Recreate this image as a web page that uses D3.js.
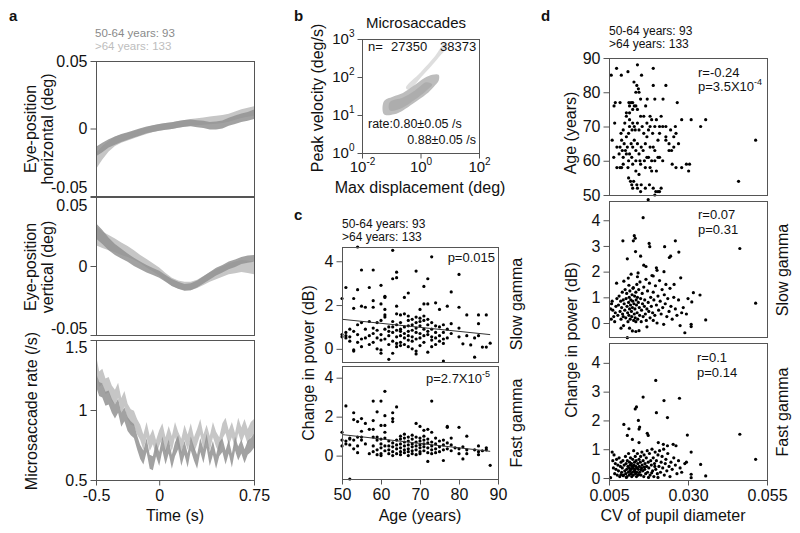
<!DOCTYPE html>
<html>
<head>
<meta charset="utf-8">
<script src="https://cdn.jsdelivr.net/npm/d3@7"></script>
<style>
  body { margin: 0; background: #fff; }
  svg { font-family: "Liberation Sans", Arial, sans-serif; display: block; background: #fff; }
  .frame { fill: none; stroke: #555; stroke-width: 1; }
  .axis path { display: none; }
  .axis line { stroke: #555; }
  .axis text { font-size: 16px; fill: #111; font-family: "Liberation Sans", Arial, sans-serif; }
  .title { font-size: 16px; fill: #111; }
  .note { font-size: 13px; fill: #111; }
  .count { font-size: 12px; }
  .tag { font-size: 15px; font-weight: bold; }
</style>
</head>
<body>
<svg id="fig" width="800" height="533"></svg>
<script>
// ---------- panel a : eye position / microsaccade rate (mean +- sem)
var tPos = [-0.5,-0.45,-0.4,-0.35,-0.3,-0.25,-0.2,-0.15,-0.1,-0.05,0,0.05,0.1,0.15,0.2,0.25,0.3,0.35,0.4,0.45,0.5,0.55,0.6,0.65,0.7,0.75]
var horizYoung = [-0.017,-0.014,-0.011,-0.009,-0.007,-0.0055,-0.004,-0.0025,-0.001,0,0.0008,0.0015,0.0022,0.003,0.0038,0.0042,0.0035,0.003,0.002,0.0022,0.003,0.005,0.0065,0.008,0.009,0.0105]
var horizYoungSem = [0.0035,0.0035,0.003,0.003,0.003,0.0028,0.0027,0.0026,0.0025,0.0025,0.0025,0.0025,0.0025,0.0025,0.0025,0.0025,0.0026,0.0027,0.0028,0.0029,0.003,0.003,0.0031,0.0032,0.0033,0.0035]
var horizOld = [-0.024,-0.018,-0.013,-0.0095,-0.0075,-0.006,-0.0045,-0.003,-0.0015,0,0.0008,0.0015,0.0022,0.003,0.0038,0.0045,0.005,0.0055,0.006,0.0065,0.007,0.008,0.0095,0.011,0.012,0.013]
var horizOldSem = [0.006,0.005,0.004,0.0035,0.003,0.0028,0.0027,0.0026,0.0025,0.0025,0.0025,0.0025,0.0025,0.0025,0.0025,0.0025,0.0026,0.0027,0.0028,0.0029,0.003,0.003,0.0031,0.0032,0.0033,0.0035]
var vertYoung = [0.0255,0.021,0.016,0.012,0.009,0.006,0.003,0.0005,-0.002,-0.004,-0.006,-0.009,-0.012,-0.014,-0.0155,-0.015,-0.013,-0.01,-0.007,-0.004,-0.002,0.0005,0.002,0.004,0.005,0.0055]
var vertYoungSem = [0.0055,0.005,0.0045,0.004,0.0035,0.003,0.003,0.0028,0.0027,0.0026,0.0025,0.0025,0.0025,0.0025,0.0025,0.0025,0.0025,0.0026,0.0027,0.0028,0.0028,0.0028,0.0027,0.0026,0.0026,0.0025]
var vertOld = [0.022,0.019,0.017,0.015,0.0125,0.0105,0.008,0.005,0.002,-0.001,-0.004,-0.008,-0.0115,-0.0135,-0.0145,-0.0145,-0.013,-0.0105,-0.008,-0.006,-0.004,-0.002,-0.001,0,-0.0005,-0.0015]
var vertOldSem = [0.007,0.006,0.0055,0.005,0.0045,0.004,0.0035,0.003,0.003,0.003,0.003,0.003,0.003,0.003,0.003,0.003,0.003,0.0032,0.0034,0.0036,0.0038,0.004,0.0042,0.0044,0.0045,0.0045]

var tRate = [-0.5,-0.475,-0.45,-0.425,-0.4,-0.375,-0.35,-0.325,-0.3,-0.275,-0.25,-0.225,-0.2,-0.175,-0.15,-0.125,-0.1,-0.075,-0.05,-0.025,0,0.025,0.05,0.075,0.1,0.125,0.15,0.175,0.2,0.225,0.25,0.275,0.3,0.325,0.35,0.375,0.4,0.425,0.45,0.475,0.5,0.525,0.55,0.575,0.6,0.625,0.65,0.675,0.7,0.725,0.75]
var rateYoung = [1.22,1.15,1.14,1.08,1.09,1.03,0.99,1.03,0.93,0.97,0.90,0.87,0.85,0.77,0.70,0.66,0.75,0.63,0.62,0.72,0.65,0.76,0.66,0.74,0.63,0.72,0.77,0.65,0.73,0.64,0.76,0.69,0.63,0.75,0.67,0.78,0.65,0.73,0.63,0.72,0.75,0.66,0.74,0.64,0.76,0.69,0.74,0.67,0.73,0.75,0.78]
var rateOld = [1.34,1.22,1.24,1.17,1.18,1.12,1.09,1.14,1.03,1.08,0.99,0.95,0.94,0.88,0.84,0.77,0.86,0.76,0.81,0.73,0.80,0.85,0.75,0.83,0.76,0.86,0.79,0.74,0.84,0.77,0.85,0.75,0.81,0.88,0.77,0.84,0.76,0.86,0.79,0.75,0.85,0.89,0.80,0.86,0.78,0.89,0.82,0.88,0.81,0.86,0.88]
var rateYoungSem = 0.05
var rateOldSem = 0.055

// ---------- panel b : main sequence cloud outlines (log10 units)
var cloudMain = [[-1.25,1.02],[-0.9,1.02],[-0.6,1.12],[-0.25,1.3],[0.2,1.55],[0.45,1.74],[0.62,1.9],[0.62,2.06],[0.4,2.06],[0.15,1.98],[-0.25,1.76],[-0.6,1.58],[-0.95,1.48],[-1.25,1.36]]
var cloudCore = [[-1.05,1.12],[-0.6,1.2],[-0.2,1.4],[0.2,1.64],[0.4,1.8],[0.2,1.86],[-0.2,1.64],[-0.6,1.46],[-1.05,1.34]]
var cloudStreak = [[-0.5,1.72],[0.0,2.12],[0.5,2.55],[0.85,2.92],[0.92,2.82],[0.55,2.45],[0.05,2.02],[-0.4,1.66]]

// ---------- panel c : gamma change vs age ([age, values...])
var slowByAge = [[50,[2.3,0.65,0.55]],[51,[2.8,0.5,0.6,0.75]],[52,[0.9,0.55,0.35]],[53,[2.3,1.85,0.8,-0.05,-0.1]],
  [54,[4.65,2.7,1.1,0.65,0.3]],[55,[3.6,1.95,1.2,0.1,0.45]],[56,[1.9,0.9,0.5]],[57,[2.8,1.25,0.2,0.6]],
  [58,[3.6,2.2,1.9,0.7,0.95,0.3]],[59,[1.2,0.5,0.0,0.85]],[60,[2.9,2.05,1.3,0.65,-0.05,-0.2,0.4]],
  [61,[2.4,2.35,1.8,1.55,1.45,0.9,0.45]],[62,[1.0,0.6,0.2,-0.48,0.8]],[63,[4.5,3.2,1.25,1.0,0.75,0.35,-0.2]],
  [64,[3.5,3.25,1.95,1.6,1.1,0.85,0.55,0.25,0.1]],[65,[1.55,1.2,0.9,0.8,0.6,0.3,0.15]],[66,[2.35,1.6,1.0,0.7,0.5,0.2]],
  [67,[2.55,1.5,1.3,1.05,0.8,0.6,0.4,0.1]],[68,[1.35,1.1,0.85,0.55,0.35,0.0]],[69,[3.55,1.45,1.2,0.95,0.75,0.45,-0.1,-0.23]],
  [70,[1.8,1.4,1.25,1.05,0.7,0.5,0.15]],[71,[2.85,2.05,1.5,1.3,0.9,0.6,0.3]],[72,[3.2,2.05,1.35,1.1,0.8,0.65,-0.15]],
  [73,[4.2,1.2,0.9,0.55,0.4,0.1]],[74,[2.1,1.05,0.75,0.5,0.2]],[75,[1.8,1.0,0.6,0.35]],[76,[1.1,0.75,0.45,0.25,-0.56]],
  [77,[1.95,0.9,0.5]],[78,[2.6,1.15,0.7]],[80,[3.4,1.9,0.95,0.55]],[81,[0.23]],[82,[1.55,0.6]],[83,[0.18]],
  [84,[0.5,-0.38]],[85,[1.55,1.15,0.6]],[86,[0.08]],[87,[1.55,0.08]],[88,[0.26]]]
var fastByAge = [[50,[1.2,0.5,0.8]],[51,[2.55,0.75,0.6]],[52,[0.85,0.9,0.55,-1.2]],[53,[2.2,1.85,0.8,0.35]],
  [54,[1.75,0.95,0.5,0.15]],[55,[1.9,1.25,0.95,0.8]],[56,[1.65,0.6]],[57,[1.35,0.1]],[58,[2.8,1.8,1.35,0.95,0.5,0.2]],
  [59,[2.25,0.95,0.8,0.3,0.05]],[60,[2.8,1.55,0.85,0.6,0.4,0.1,0.0]],[61,[3.3,2.05,1.55,1.2,0.9,0.5,0.25]],
  [62,[0.75,0.5,0.3,0.1]],[63,[2.2,1.9,1.75,0.65,0.45,0.2,0.0]],[64,[2.5,0.8,0.55,0.35,0.1]],
  [65,[1.0,0.85,0.6,0.4,0.2,0.05]],[66,[1.1,0.9,0.7,0.5,0.3,0.15]],[67,[0.95,0.75,0.55,0.35,0.2,0.0]],
  [68,[1.05,0.85,0.6,0.45,0.25,0.1]],[69,[1.65,0.95,0.7,0.5,0.3,0.05]],[70,[1.5,0.9,0.75,0.55,0.4,0.2,0.1]],
  [71,[1.3,1.0,0.8,0.6,0.45,0.25]],[72,[1.35,0.85,0.65,0.4,0.15,-0.3]],[73,[2.8,1.2,0.7,0.5,0.3,0.1]],
  [74,[0.9,0.6,0.35,0.15]],[75,[0.75,0.45,0.2]],[76,[0.8,0.55,0.3,-0.25]],[77,[1.5,1.45,0.65,0.35]],
  [78,[0.9,0.55,0.25]],[79,[0.4]],[80,[1.45,0.35,0.1]],[81,[0.45,-0.17]],[82,[1.0,0.3,0.1]],[84,[0.3]],
  [85,[0.5,0.2,0.05]],[86,[0.25]],[87,[0.4,0.3]],[88,[-0.5]]]
var slowFit = [[50,1.35],[88,0.65]]
var fastFit = [[50,1.08],[88,0.22]]

// ---------- panel d : vs CV of pupil diameter ([cv, value])
var ageVsCv = [[0.0057,85],[0.0074,87],[0.0089,85],[0.011,86],[0.014,88],[0.0153,85],[0.019,87],[0.0129,83],[0.0138,82],
  [0.0143,81],[0.019,82],[0.023,82],[0.0145,80],[0.0135,80],[0.015,78],[0.0171,78],[0.0195,78],[0.0221,78],[0.0266,77],
  [0.007,77],[0.0085,77],[0.0066,76],[0.0113,77],[0.012,77],[0.0125,77],[0.013,76],[0.0135,76],[0.0115,76],[0.014,75],
  [0.0166,76],[0.0125,75],[0.0105,74],[0.0115,74],[0.0105,73],[0.015,73],[0.016,73],[0.018,73],[0.02,72],[0.0215,73],
  [0.0068,71],[0.01,71],[0.0115,72],[0.0125,71],[0.013,70],[0.014,71],[0.0155,70],[0.017,71],[0.018,70],[0.0185,72],
  [0.0195,70],[0.021,70],[0.022,70],[0.023,70],[0.0245,69],[0.026,70],[0.028,72],[0.031,72],[0.034,70],[0.0356,72],
  [0.0115,70],[0.0123,69],[0.0133,69],[0.0145,69],[0.016,68],[0.0175,69],[0.0095,69],[0.0088,68],[0.0105,67],[0.0112,68],
  [0.017,67],[0.0188,68],[0.021,68],[0.023,67],[0.0255,67],[0.0262,68],[0.006,66],[0.009,66],[0.0098,65],[0.0108,64],
  [0.012,65],[0.013,66],[0.014,65],[0.0152,64],[0.0165,65],[0.019,64],[0.0205,66],[0.023,66],[0.024,65],[0.0255,64],
  [0.027,65],[0.0085,64],[0.0075,64],[0.0092,63],[0.0102,63],[0.0115,62],[0.0125,64],[0.0135,63],[0.0145,62],[0.0158,63],
  [0.0175,61],[0.018,64],[0.0195,63],[0.024,63],[0.0248,63],[0.0514,66],[0.0065,61],[0.0082,62],[0.0095,61],[0.0105,62],
  [0.0112,60],[0.0122,61],[0.0135,60],[0.0148,60],[0.0162,60],[0.017,61],[0.0185,60],[0.0195,60],[0.0205,61],[0.021,61],
  [0.022,60],[0.0075,58],[0.0085,58],[0.0095,59],[0.011,58],[0.0125,59],[0.0135,57],[0.015,59],[0.0165,58],[0.018,58],
  [0.02,57],[0.025,59],[0.0262,58],[0.028,58],[0.0295,59],[0.0305,59],[0.0302,57],[0.009,58],[0.0145,56],[0.0185,57],
  [0.0112,55],[0.0118,54],[0.0128,54],[0.0138,53],[0.0122,53],[0.014,52],[0.0152,53],[0.0165,52],[0.0178,53],[0.019,52],
  [0.0205,51],[0.0195,50],[0.0198,51],[0.0215,52],[0.021,51],[0.0125,52],[0.015,51],[0.046,54]]
var slowVsCv = [[0.0174,4.8],[0.0158,4.1],[0.013,3.4],[0.0133,3.3],[0.0127,3.2],[0.0094,3.2],[0.0177,3.1],[0.0179,2.97],
  [0.0226,2.97],[0.026,3.2],[0.0464,2.9],[0.0134,2.78],[0.015,2.6],[0.0245,2.6],[0.0241,2.55],[0.0271,2.76],[0.0108,2.5],
  [0.016,2.25],[0.0167,2.2],[0.02,2.15],[0.0202,2.05],[0.0142,1.95],[0.014,1.8],[0.019,1.83],[0.0224,2.0],[0.0074,1.55],
  [0.0097,1.63],[0.0113,1.47],[0.0127,1.38],[0.0277,1.76],[0.0256,1.5],[0.0317,1.18],[0.0338,1.09],[0.0312,0.82],
  [0.0514,0.77],[0.0356,0.12],[0.031,-0.05],[0.031,-0.14],[0.029,-0.38],[0.0108,-0.57],[0.0124,-0.31],[0.0135,-0.33],
  [0.0145,-0.3],[0.0055,0.55],[0.0058,0.75],[0.006,0.85],[0.0062,0.5],[0.0065,0.25],[0.0057,0.15],[0.0068,0.05],[0.007,0.4],
  [0.0072,0.65],[0.0075,0.95],[0.0078,0.3],[0.008,0.7],[0.0082,1.05],[0.0085,0.45],[0.0087,0.85],[0.0088,0.15],[0.009,0.6],
  [0.0092,1.2],[0.0093,0.35],[0.0095,0.9],[0.0096,-0.1],[0.0098,0.75],[0.01,0.5],[0.0101,1.3],[0.0103,0.2],[0.0104,0.95],
  [0.0106,1.15],[0.0107,0.65],[0.0109,0.4],[0.011,0.05],[0.0111,1.75],[0.0112,0.8],[0.0113,0.3],[0.0114,1.0],[0.0115,0.55],
  [0.0116,1.25],[0.0117,0.15],[0.0118,0.7],[0.0119,0.9],[0.012,1.9],[0.0121,0.45],[0.0122,0.25],[0.0123,1.1],[0.0124,0.6],
  [0.0125,0.85],[0.0126,1.35],[0.0128,0.1],[0.0129,0.75],[0.013,0.35],[0.0131,1.05],[0.0132,0.55],[0.0133,0.2],[0.0135,1.2],
  [0.0136,0.9],[0.0137,0.7],[0.0138,1.5],[0.0139,0.4],[0.014,1.0],[0.0141,0.15],[0.0143,0.8],[0.0144,1.3],[0.0146,0.6],
  [0.0147,0.3],[0.0148,1.6],[0.015,0.95],[0.0152,0.05],[0.0153,0.5],[0.0155,1.15],[0.0156,0.75],[0.0158,0.25],[0.016,1.4],
  [0.0162,0.65],[0.0163,0.9],[0.0165,0.35],[0.0167,1.7],[0.0168,0.1],[0.017,0.55],[0.0172,1.25],[0.0174,0.8],[0.0176,0.45],
  [0.0178,1.55],[0.018,0.2],[0.0182,1.0],[0.0184,0.65],[0.0186,1.85],[0.0188,0.4],[0.019,1.2],[0.0192,0.9],[0.0195,0.3],
  [0.0197,1.45],[0.02,0.7],[0.0202,0.0],[0.0205,1.05],[0.0207,0.5],[0.021,1.65],[0.0212,0.85],[0.0215,0.35],[0.0218,1.3],
  [0.022,0.6],[0.0223,-0.05],[0.0225,1.1],[0.0228,0.75],[0.023,1.5],[0.0233,0.25],[0.0236,0.95],[0.024,0.45],[0.0243,1.35],
  [0.0246,0.65],[0.025,0.15],[0.0255,1.0],[0.026,0.55],[0.0265,0.3],[0.027,0.9],[0.0275,-0.1],[0.028,0.4],[0.0285,0.6],
  [0.03,0.95],[0.0295,0.35],[0.0115,-0.2],[0.0088,-0.2],[0.0095,0.25],[0.0135,0.05],[0.017,-0.15],[0.019,0.1]]
var fastVsCv = [[0.0198,3.39],[0.0158,2.81],[0.0224,2.69],[0.0273,2.77],[0.02,2.27],[0.0137,2.47],[0.0133,2.4],[0.0235,2.1],
  [0.0097,1.86],[0.0143,2.0],[0.0147,1.77],[0.0145,1.7],[0.0113,1.71],[0.0171,1.55],[0.0174,1.48],[0.0108,1.48],[0.0298,1.49],
  [0.0464,1.52],[0.0124,1.34],[0.0206,1.23],[0.0222,1.17],[0.0235,1.12],[0.0253,1.17],[0.0262,1.12],[0.0145,1.23],[0.031,0.9],
  [0.0514,0.65],[0.034,0.47],[0.0356,0.07],[0.031,0.13],[0.031,0.01],[0.0055,0.01],[0.006,0.9],[0.0062,0.6],[0.0064,0.35],
  [0.0066,0.8],[0.0068,0.15],[0.007,0.5],[0.0072,0.3],[0.0074,0.65],[0.0076,0.1],[0.0078,0.45],[0.008,0.25],[0.0082,0.7],
  [0.0084,0.05],[0.0086,0.4],[0.0088,0.55],[0.009,0.2],[0.0092,0.35],[0.0094,0.6],[0.0096,0.1],[0.0098,0.45],[0.01,0.25],
  [0.0102,0.75],[0.0103,0.15],[0.0104,0.5],[0.0106,0.3],[0.0107,0.05],[0.0108,0.6],[0.011,0.4],[0.0111,0.2],[0.0112,0.85],
  [0.0113,0.35],[0.0114,0.1],[0.0115,0.55],[0.0116,0.25],[0.0117,0.45],[0.0118,0.7],[0.0119,0.15],[0.012,0.3],[0.0121,0.5],
  [0.0122,0.05],[0.0123,0.4],[0.0124,0.2],[0.0125,0.65],[0.0126,0.35],[0.0127,0.1],[0.0128,0.95],[0.0129,0.45],[0.013,0.25],
  [0.0131,0.55],[0.0132,0.3],[0.0133,0.75],[0.0134,0.15],[0.0135,0.4],[0.0136,0.6],[0.0137,0.05],[0.0138,0.2],[0.0139,0.35],
  [0.014,0.85],[0.0141,0.5],[0.0142,0.1],[0.0143,0.3],[0.0145,0.65],[0.0146,0.4],[0.0147,0.2],[0.0149,0.55],[0.015,0.75],
  [0.0151,0.1],[0.0153,0.35],[0.0154,0.9],[0.0155,0.45],[0.0157,0.25],[0.0158,0.6],[0.016,0.05],[0.0161,0.8],[0.0163,0.3],
  [0.0164,0.5],[0.0166,0.15],[0.0168,0.7],[0.0169,0.4],[0.0171,0.95],[0.0172,0.2],[0.0174,0.55],[0.0176,0.35],[0.0178,0.85],
  [0.018,0.1],[0.0182,0.6],[0.0184,0.45],[0.0186,1.0],[0.0188,0.25],[0.019,0.7],[0.0192,0.05],[0.0194,0.5],[0.0196,0.9],
  [0.0198,0.3],[0.02,0.6],[0.0203,0.15],[0.0205,0.8],[0.0208,0.4],[0.021,0.95],[0.0213,0.2],[0.0215,0.55],[0.0218,0.75],
  [0.022,0.35],[0.0223,1.0],[0.0225,0.1],[0.0228,0.5],[0.023,0.65],[0.0233,0.25],[0.0236,0.85],[0.024,0.4],[0.0243,0.05],
  [0.0246,0.55],[0.025,0.3],[0.0255,0.7],[0.026,0.45],[0.0265,0.15],[0.027,0.6],[0.0275,0.35],[0.028,0.2],[0.029,0.5],
  [0.0295,0.55],[0.0088,0.12],[0.0095,0.08],[0.0105,0.02],[0.0118,0.32],[0.0127,0.42],[0.0133,0.22],[0.0144,0.12],
  [0.0152,0.28],[0.0162,0.38],[0.0175,0.02],[0.0185,0.18],[0.0195,0.4],[0.0205,0.02]]

var groupText = ['50-64 years: 93', '>64 years: 133']
var youngColor = '#929292', oldColor = '#c6c6c6'

var svg = d3.select('#fig')

function frame(x0, y0, x1, y1) {
  svg.append('rect').attr('class', 'frame')
    .attr('x', x0 + 0.5).attr('y', y0 + 0.5)
    .attr('width', x1 - x0).attr('height', y1 - y0)
}

function leftAxis(y, x0, values, fmt) {
  return svg.append('g').attr('class', 'axis')
    .attr('transform', 'translate(' + (x0 + 0.5) + ',0)')
    .call(d3.axisLeft(y).tickValues(values).tickSize(6).tickPadding(3).tickFormat(fmt || (d => String(d))))
}

function bottomAxis(x, y0, values, fmt) {
  svg.append('g').attr('class', 'axis')
    .attr('transform', 'translate(0,' + (y0 + 0.5) + ')')
    .call(d3.axisBottom(x).tickValues(values).tickSize(5).tickPadding(4).tickFormat(fmt || (d => String(d))))
}

function vLabel(lines, x, y, cls) {
  lines.forEach(function(l) {
    svg.append('text').attr('class', cls || 'title')
      .attr('transform', 'translate(' + l.x + ',' + y + ') rotate(-90)')
      .attr('text-anchor', 'middle').text(l.t)
  })
}

function text(str, x, y, cls, anchor, fill) {
  return svg.append('text').attr('class', cls).attr('x', x).attr('y', y)
    .attr('text-anchor', anchor || 'start').attr('fill', fill || '#111').text(str)
}

function band(x, y, ts, mean, sem, color, op) {
  let pts = ts.map((t, i) => ({t: t, m: mean[i], s: Array.isArray(sem) ? sem[i] : sem}))
  let area = d3.area()
    .x(d => x(d.t))
    .y0(d => y(d.m - d.s))
    .y1(d => y(d.m + d.s))
  svg.append('path').datum(pts)
    .attr('fill', color).attr('fill-opacity', op).attr('d', area)
}

function dots(data, x, y) {
  svg.append('g').selectAll('circle').data(data).enter()
    .append('circle')
    .attr('cx', d => x(d[0])).attr('cy', d => y(d[1]))
    .attr('r', 1.6).attr('fill', '#000')
}

// ===================== panel a
var xa = d3.scaleLinear().domain([-0.5, 0.75]).range([96, 254])
var ya1 = d3.scaleLinear().domain([-0.05, 0.05]).range([196, 61])
var ya2 = d3.scaleLinear().domain([-0.05, 0.05]).range([335, 197])
var ya3 = d3.scaleLinear().domain([0.5, 1.5]).range([480, 340])

band(xa, ya1, tPos, horizOld, horizOldSem, oldColor, 1)
band(xa, ya1, tPos, horizYoung, horizYoungSem, youngColor, 0.85)
band(xa, ya2, tPos, vertOld, vertOldSem, oldColor, 1)
band(xa, ya2, tPos, vertYoung, vertYoungSem, youngColor, 0.85)
band(xa, ya3, tRate, rateOld, rateOldSem, oldColor, 1)
band(xa, ya3, tRate, rateYoung, rateYoungSem, youngColor, 0.85)

frame(96, 61, 254, 196)
frame(96, 197, 254, 335)
frame(96, 340, 254, 480)
// stacked plots share edges: nudge the edge labels apart
leftAxis(ya1, 96, [-0.05, 0, 0.05]).selectAll('.tick text').filter(d => d < 0).attr('dy', '-0.22em')
var a2 = leftAxis(ya2, 96, [-0.05, 0, 0.05])
a2.selectAll('.tick text').filter(d => d > 0).attr('dy', '0.85em')
a2.selectAll('.tick text').filter(d => d < 0).attr('dy', '-0.12em')
leftAxis(ya3, 96, [0.5, 1, 1.5]).selectAll('.tick text').filter(d => d > 1.2).attr('dy', '0.8em')
bottomAxis(xa, 480, [-0.5, 0, 0.75])

text('a', 9, 21, 'tag')
text(groupText[0], 95, 37, 'count', 'start', '#8a8a8a').style('font-size', '11.5px')
text(groupText[1], 95, 50, 'count', 'start', '#bdbdbd').style('font-size', '11.5px')
vLabel([{x: 36, t: 'Eye-position'}, {x: 53, t: 'horizontal (deg)'}], 0, 129)
vLabel([{x: 36, t: 'Eye-position'}, {x: 53, t: 'vertical (deg)'}], 0, 267)
vLabel([{x: 37, t: 'Microsaccade rate (/s)'}], 0, 411)
text('Time (s)', 175, 521, 'title', 'middle')

// ===================== panel b
var xb = d3.scaleLog().domain([0.01, 100]).range([362, 479])
var yb = d3.scaleLog().domain([1, 1000]).range([153, 39])
var cloudLine = d3.line().x(d => xb(Math.pow(10, d[0]))).y(d => yb(Math.pow(10, d[1]))).curve(d3.curveCatmullRomClosed)

svg.append('path').datum(cloudStreak).attr('d', cloudLine).attr('fill', '#dedede')
svg.append('path').datum(cloudMain).attr('d', cloudLine).attr('fill', '#bdbdbd')
svg.append('path').datum(cloudCore).attr('d', cloudLine).attr('fill', '#adadad')

frame(362, 39, 479, 153)
function powLabels(sel) {
  sel.selectAll('.tick text').each(function(d) {
    let t = d3.select(this)
    t.text('10').style('font-size', '15px')
    t.append('tspan').attr('dy', -7).style('font-size', '10px').text(Math.round(Math.log10(d)))
  })
}
svg.append('g').attr('class', 'axis').attr('transform', 'translate(362.5,0)')
  .call(d3.axisLeft(yb).tickValues([1, 10, 100, 1000]).tickSize(5).tickPadding(3))
  .call(powLabels)
svg.append('g').attr('class', 'axis').attr('transform', 'translate(0,153.5)')
  .call(d3.axisBottom(xb).tickValues([0.01, 1, 100]).tickSize(5).tickPadding(3))
  .call(powLabels)

text('b', 294, 21, 'tag')
text('Microsaccades', 416, 28, 'title', 'middle').style('font-size', '15px')
text('n=', 368, 51, 'note', 'start', '#222')
text('27350', 391, 51, 'note', 'start', '#7a7a7a')
text('38373', 440, 51, 'note', 'start', '#bdbdbd')
text('rate:0.80\u00b10.05 /s', 368, 128, 'note', 'start', '#555').style('font-size', '12.5px')
text('0.88\u00b10.05 /s', 476, 144, 'note', 'end', '#bdbdbd').style('font-size', '12.5px')
vLabel([{x: 323, t: 'Peak velocity (deg/s)'}], 0, 98)
text('Max displacement (deg)', 420, 193, 'title', 'middle')

// ===================== panel c
var xc = d3.scaleLinear().domain([50, 90]).range([342, 498])
var yc1 = d3.scaleLinear().domain([-0.6, 4.65]).range([362, 247])
var yc2 = d3.scaleLinear().domain([-1.2, 4.6]).range([479, 366])
function flat(byAge) {
  let out = []
  byAge.forEach(a => a[1].forEach(v => out.push([a[0], v])))
  return out
}
var fitLine = (x, y) => d3.line().x(d => x(d[0])).y(d => y(d[1]))

dots(flat(slowByAge), xc, yc1)
svg.append('path').datum(slowFit).attr('d', fitLine(xc, yc1)).attr('stroke', '#333').attr('fill', 'none')
dots(flat(fastByAge), xc, yc2)
svg.append('path').datum(fastFit).attr('d', fitLine(xc, yc2)).attr('stroke', '#333').attr('fill', 'none')

frame(342, 247, 498, 362)
frame(342, 366, 498, 479)
leftAxis(yc1, 342, [0, 2, 4])
leftAxis(yc2, 342, [0, 2, 4])
bottomAxis(xc, 479, [50, 60, 70, 80, 90])

text('c', 294, 220, 'tag')
text(groupText[0], 342, 228, 'count')
text(groupText[1], 342, 241, 'count')
text('p=0.015', 495, 262, 'note', 'end')
text('p=2.7X10', 482, 383, 'note', 'end')
svg.append('text').attr('class', 'note').attr('x', 482).attr('y', 377).style('font-size', '9px').text('-5')
vLabel([{x: 314, t: 'Change in power (dB)'}], 0, 363)
vLabel([{x: 522, t: 'Slow gamma'}], 0, 304)
vLabel([{x: 522, t: 'Fast gamma'}], 0, 423)
text('Age (years)', 420, 521, 'title', 'middle')

// ===================== panel d
var xd = d3.scaleLinear().domain([0.005, 0.055]).range([609, 767])
var yd1 = d3.scaleLinear().domain([50, 90]).range([195, 58])
var yd2 = d3.scaleLinear().domain([-0.545, 4.75]).range([337, 201])
var yd3 = d3.scaleLinear().domain([-0.07, 4.69]).range([480, 343])

dots(ageVsCv, xd, yd1)
dots(slowVsCv, xd, yd2)
dots(fastVsCv, xd, yd3)

frame(609, 58, 767, 195)
frame(609, 201, 767, 337)
frame(609, 343, 767, 480)
leftAxis(yd1, 609, [50, 60, 70, 80, 90])
leftAxis(yd2, 609, [0, 1, 2, 3, 4])
leftAxis(yd3, 609, [0, 1, 2, 3, 4])
bottomAxis(xd, 480, [0.005, 0.03, 0.055], d3.format('.3f'))

text('d', 541, 21, 'tag')
text(groupText[0], 609, 35, 'count')
text(groupText[1], 609, 48, 'count')
text('r=-0.24', 698, 77, 'note')
text('p=3.5X10', 698, 91, 'note')
svg.append('text').attr('class', 'note').attr('x', 754).attr('y', 85).style('font-size', '9px').text('-4')
text('r=0.07', 698, 219, 'note')
text('p=0.31', 698, 234, 'note')
text('r=0.1', 697, 362, 'note')
text('p=0.14', 697, 377, 'note')
vLabel([{x: 576, t: 'Age (years)'}], 0, 133)
vLabel([{x: 577, t: 'Change in power (dB)'}], 0, 340)
vLabel([{x: 788, t: 'Slow gamma'}], 0, 270)
vLabel([{x: 788, t: 'Fast gamma'}], 0, 412)
text('CV of pupil diameter', 673, 521, 'title', 'middle')
</script>
</body>
</html>
